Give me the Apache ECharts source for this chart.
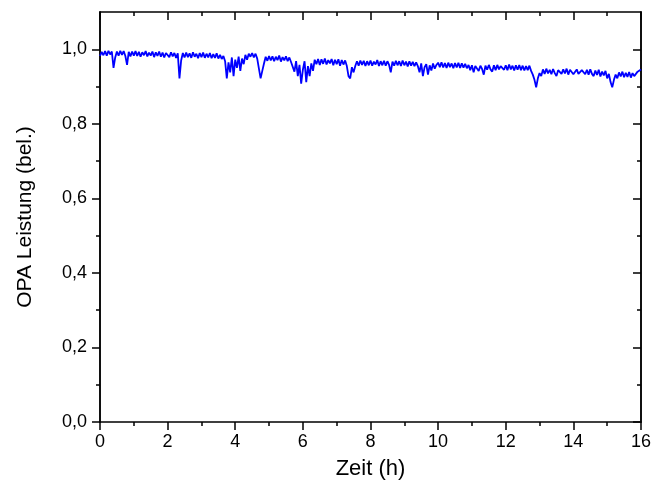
<!DOCTYPE html>
<html>
<head>
<meta charset="utf-8">
<script src="https://cdn.jsdelivr.net/npm/echarts@6/dist/echarts.min.js"></script>
<style>
html,body{margin:0;padding:0;background:#fff;}
#chart{width:654px;height:491px;}
</style>
</head>
<body>
<div id="chart"></div>
<script>
// Sampling step of the time axis (h)
const timeStep = 0.05;
// OPA power (relative) at 0.05 h steps, 0..16 h
const power = [
  0.982,0.993,0.984,0.995,0.983,0.996,0.986,0.994,
  0.95,0.978,
  0.994,0.983,0.996,0.985,0.995,0.982,
  0.958,
  0.993,0.981,0.994,0.983,0.995,0.982,0.993,0.98,0.992,0.984,0.995,0.981,0.991,0.983,0.994,0.979,0.992,0.982,0.994,0.98,0.991,0.978,0.99,0.993,0.979,0.992,0.981,0.99,0.977,0.989,
  0.922,0.97,
  0.99,0.978,0.991,0.979,0.989,0.977,0.992,0.98,0.988,0.976,0.99,0.979,0.991,0.977,0.988,0.978,0.99,0.976,0.987,0.977,0.989,0.975,
  0.985,0.974,0.982,0.968,0.922,
  0.965,0.938,0.978,0.928,0.972,0.95,0.98,0.942,0.975,0.96,0.985,0.972,0.988,
  0.98,0.99,0.978,0.988,0.975,
  0.948,0.922,0.942,0.962,
  0.98,0.969,0.982,0.97,0.981,0.968,0.98,0.971,0.983,0.967,0.979,0.97,0.981,0.968,0.978,0.966,
  0.962,0.94,0.968,0.928,0.958,0.908,0.945,0.968,0.912,0.955,0.928,0.962,0.942,
  0.972,0.96,0.974,0.958,0.973,0.961,0.975,0.959,0.971,0.962,0.974,0.957,0.972,0.96,0.973,0.956,0.971,0.959,0.97,0.955,
  0.928,0.922,0.952,0.938,
  0.955,0.968,0.956,0.97,0.958,0.969,0.955,0.968,0.957,0.97,0.956,0.967,0.959,0.971,0.955,0.968,0.957,0.969,0.956,0.968,0.958,
  0.938,
  0.967,0.956,0.969,0.957,0.968,0.955,0.97,0.957,0.967,0.954,0.968,0.956,0.966,0.955,0.965,
  0.955,0.938,0.962,0.928,0.952,0.96,0.932,0.957,0.943,0.962,0.948,0.958,
  0.964,0.952,0.965,0.951,0.963,0.95,0.964,0.952,0.962,0.949,0.963,0.951,0.964,0.95,0.962,0.951,0.961,0.949,
  0.958,0.944,0.957,0.938,0.955,0.959,0.942,0.956,0.947,0.932,0.956,0.945,0.958,0.946,0.94,0.957,0.944,0.958,0.946,0.955,
  0.958,0.945,0.957,0.944,0.959,0.946,0.956,0.943,0.957,0.945,0.958,0.944,0.956,0.943,0.955,0.944,0.956,0.942,
  0.932,0.918,0.898,0.922,0.936,0.928,
  0.946,0.934,0.948,0.935,0.945,0.933,0.947,0.936,0.928,0.944,0.949,0.934,0.946,0.935,0.948,0.932,0.945,0.947,0.933,0.936,0.946,0.934,0.93,0.944,0.948,0.933,0.945,0.932,0.946,0.934,0.928,0.943,0.931,0.945,0.927,0.94,0.93,0.942,
  0.922,0.934,0.912,0.898,0.918,0.932,0.922,
  0.938,0.927,0.94,0.925,0.937,0.926,0.939,0.924,0.936,0.928,0.934,0.94,0.938,0.946
];
// Axis ticks
const xTicksMajor = [0,2,4,6,8,10,12,14,16];
const yTicksMajor = [0,0.2,0.4,0.6,0.8,1.0];
const yTicksMinor = [0.1,0.3,0.5,0.7,0.9];

const seriesData = power.map((v,i)=>[+(i*timeStep).toFixed(2), v]);

const FONT = 'Liberation Sans, Arial, sans-serif';
const axisLine = {show:true, onZero:false, lineStyle:{color:'#000', width:1.5}};

function yAx(opts){
  return Object.assign({
    type:'value', min:0, max:1.1, interval:0.1,
    axisLine: axisLine, splitLine:{show:false},
    axisLabel:{show:false}
  }, opts);
}

const chart = echarts.init(document.getElementById('chart'), null, {renderer:'canvas'});
chart.setOption({
  animation:false,
  backgroundColor:'#fff',
  grid:{left:100, right:11, top:12, bottom:69, containLabel:false},
  xAxis:[
    {type:'value', position:'bottom', min:0, max:16, interval:2,
     axisLine: axisLine, splitLine:{show:false},
     axisTick:{show:true, inside:false, length:8, lineStyle:{color:'#000', width:1.5}, customValues: xTicksMajor},
     minorTick:{show:true, splitNumber:2, length:4, lineStyle:{color:'#000', width:1.5}},
     axisLabel:{show:true, margin:11, color:'#000', fontSize:18, fontFamily:FONT, customValues: xTicksMajor},
     name:'Zeit (h)', nameLocation:'middle', nameGap:36,
     nameTextStyle:{color:'#000', fontSize:22, fontFamily:FONT}},
    {type:'value', position:'top', min:0, max:16, interval:2,
     axisLine: axisLine, splitLine:{show:false},
     axisTick:{show:true, inside:true, length:8, lineStyle:{color:'#000', width:1.5}},
     minorTick:{show:true, splitNumber:2, length:4, lineStyle:{color:'#000', width:1.5}},
     axisLabel:{show:false}}
  ],
  yAxis:[
    yAx({position:'left', offset:0,
      axisTick:{show:true, inside:false, length:8, lineStyle:{color:'#000', width:1.5}, customValues: yTicksMajor},
      axisLabel:{show:true, margin:13, color:'#000', fontSize:18, fontFamily:FONT, customValues: yTicksMajor,
        formatter: v => v.toFixed(1).replace('.', ',')},
      name:'OPA Leistung (bel.)', nameLocation:'middle', nameGap:64,
      nameTextStyle:{color:'#000', fontSize:21, fontFamily:FONT}}),
    yAx({position:'left', offset:0,
      axisTick:{show:true, inside:false, length:4, lineStyle:{color:'#000', width:1.5}, customValues: yTicksMinor}}),
    yAx({position:'right', offset:0,
      axisTick:{show:true, inside:true, length:8, lineStyle:{color:'#000', width:1.5}, customValues: yTicksMajor}}),
    yAx({position:'right', offset:0,
      axisTick:{show:true, inside:true, length:4, lineStyle:{color:'#000', width:1.5}, customValues: yTicksMinor}})
  ],
  series:[{
    type:'line', xAxisIndex:0, yAxisIndex:0,
    data: seriesData, showSymbol:false, symbol:'none', sampling:null,
    lineStyle:{color:'#0000ff', width:1.8}, itemStyle:{color:'#0000ff'}
  }]
});
</script>
</body>
</html>
